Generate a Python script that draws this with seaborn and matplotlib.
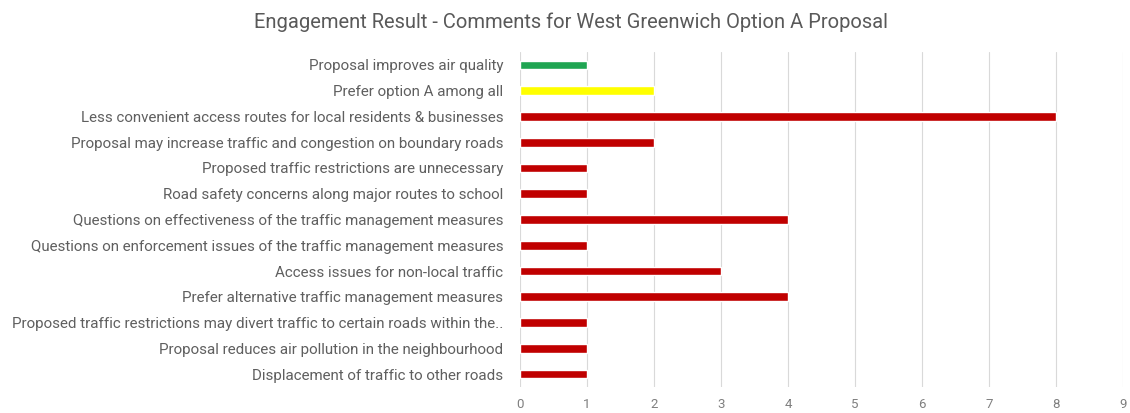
import matplotlib
matplotlib.use("Agg")
import matplotlib.pyplot as plt
import seaborn as sns
import pandas as pd

categories = [
    "Proposal improves air quality",
    "Prefer option A among all",
    "Less convenient access routes for local residents & businesses",
    "Proposal may increase traffic and congestion on boundary roads",
    "Proposed traffic restrictions are unnecessary",
    "Road safety concerns along major routes to school",
    "Questions on effectiveness of the traffic management measures",
    "Questions on enforcement issues of the traffic management measures",
    "Access issues for non-local traffic",
    "Prefer alternative traffic management measures",
    "Proposed traffic restrictions may divert traffic to certain roads within the..",
    "Proposal reduces air pollution in the neighbourhood",
    "Displacement of traffic to other roads",
]
counts = [1, 2, 8, 2, 1, 1, 4, 1, 3, 4, 1, 1, 1]
bar_colors = ["#1fa552", "#ffff00"] + ["#c00000"] * 11
x_ticks = list(range(0, 10))

df = pd.DataFrame({"category": categories, "count": counts})

sns.set_style("white")
plt.rcParams["font.family"] = ["Roboto", "DejaVu Sans"]

fig = plt.figure(figsize=(11.3, 4.13), dpi=100)
ax = fig.add_axes([0.46, 0.063, 0.534, 0.811])

sns.barplot(data=df, y="category", x="count", hue="category",
            palette=bar_colors, orient="h", width=0.34, legend=False,
            saturation=1, ax=ax)

ax.set_xlim(0, 9)
ax.set_xticks(x_ticks)
ax.set_xticklabels([str(t) for t in x_ticks])
ax.grid(axis="x", color="#d9d9d9", linewidth=0.8)
ax.set_axisbelow(True)
for s in ax.spines.values():
    s.set_visible(False)
ax.set_xlabel("")
ax.set_ylabel("")
ax.tick_params(axis="y", length=0, colors="#5f5f5f", labelsize=10.9, pad=12)
ax.tick_params(axis="x", length=0, colors="#7f7f7f", labelsize=9.5, pad=8)

fig.text(0.505, 0.945, "Engagement Result - Comments for West Greenwich Option A Proposal",
         ha="center", va="center", fontsize=14.5, color="#595959")

fig.savefig("out.png", dpi=100)
